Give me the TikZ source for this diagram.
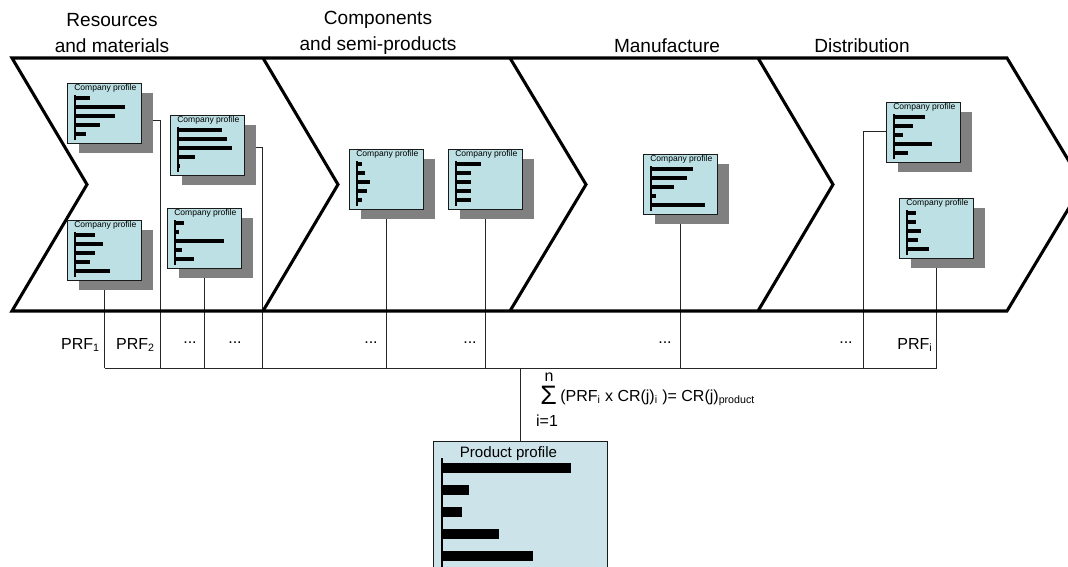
\documentclass[tikz,border=0pt]{standalone}
\usepackage{fontspec}
\setmainfont{Liberation Sans}
\usetikzlibrary{calc,shadows,backgrounds}

\definecolor{cpfill}{HTML}{BCE0E3}
\definecolor{ppfill}{HTML}{CDE3EA}
\definecolor{shade}{HTML}{808080}
\definecolor{edge}{HTML}{1A1A1A}

\tikzset{
  chevron/.style={line width=2.3pt, line join=miter},
  cpbox/.style={draw=edge, line width=1pt, fill=cpfill, minimum width=55.5pt,
    minimum height=45pt, inner sep=0pt, anchor=north west,
    drop shadow={shadow xshift=8.25pt, shadow yshift=-6.75pt, fill=shade, opacity=1}},
  cptitle/.style={font=\fontsize{6.4}{7}\selectfont, inner sep=0pt, anchor=north west},
  cpaxis/.style={line width=0.8pt},
  cpbar/.style={line width=2.3pt},
  conn/.style={line width=0.75pt, draw=black!85},
  stage/.style={font=\fontsize{14.3}{19.5}\selectfont, align=center, inner sep=0pt},
  prf/.style={font=\fontsize{12}{14}\selectfont, inner sep=0pt},
  ppbox/.style={draw=edge, line width=1.1pt, fill=ppfill, minimum width=130.5pt,
    minimum height=104pt, inner sep=0pt, anchor=north west},
  ppbar/.style={line width=7.5pt},
}

% company profile card: name, left, top, five bar lengths
\newcommand\cprofile[4]{%
  \node[cpbox] (#1) at (#2,#3) {};
  \node[cptitle] (#1t) at ($(#1.north west)+(7,1.5)$) {Company profile};
  \draw[cpaxis] ($(#1.north west)+(8,12)$) -- ($(#1.north west)+(8,57)$);
  \foreach \L [count=\k] in {#4}
    \draw[cpbar] ($(#1.north west)+(8,6+9*\k)$) -- ++(\L,0);
}

\begin{document}
\begin{tikzpicture}[x=0.75pt, y=-0.75pt]
\useasboundingbox (0,0) rectangle (1068,567);
\clip (0,0) rectangle (1068,567);

% stage headings
\node[stage] (s1) at (112,33) {Resources\\and materials};
\node[stage] (s2) at (378,33) {Components\\and semi-products};
\node[stage] (s3) at (667,46) {Manufacture};
\node[stage] (s4) at (862,46) {Distribution};

% value chain chevrons
\draw[chevron] (12,58) -- (1007,58) -- (1083,184.5) -- (1007,311) -- (12,311)
  -- (87,184.5) -- cycle;
\draw[chevron] (263,58) -- (338,184.5) -- (263,311);
\draw[chevron] (510,58) -- (586,184.5) -- (510,311);
\draw[chevron] (758,58) -- (833,184.5) -- (758,311);

% company profile cards
\cprofile{b1}{67}{83}{15,50,40,25,11}
\cprofile{b2}{170}{115}{44,49,54,17,2}
\cprofile{b3}{67}{220}{20,28,20,15,35}
\cprofile{b4}{167}{208}{9,4,49,7,19}
\cprofile{b5}{349}{149}{5,8,13,10,5}
\cprofile{b6}{448}{149}{25,15,15,15,15}
\cprofile{b7}{643}{154}{42,36,23,5,54}
\cprofile{b8}{886}{102}{31,19,9,38,14}
\cprofile{b9}{899}{198}{9,9,14,11,22}

% product profile card
\node[ppbox] (pp) at (433,441) {};
\node[font=\fontsize{11.3}{13}\selectfont, inner sep=0pt] (ppt) at (508.5,454) {Product profile};
\draw[line width=2pt] (442,458) -- (442,580);
\foreach \E/\Y in {571/468, 469/490, 462/512, 499/534, 533/556}
  \draw[ppbar] (442,\Y) -- (\E,\Y);

% collecting lines
\coordinate (bus) at (0,368);
\coordinate (t2) at (160,368);
\coordinate (t4) at (262,368);
\coordinate (t8) at (863,368);
\begin{scope}[on background layer]
  \draw[conn] (b3.south) -- (b3.south |- bus);
  \draw[conn] ($(b1.north east)+(0,38)$) -| (t2);
  \draw[conn] (b4.south) -- (b4.south |- bus);
  \draw[conn] ($(b2.north east)+(0,32)$) -| (t4);
  \draw[conn] (b5.south) -- (b5.south |- bus);
  \draw[conn] (b6.south) -- (b6.south |- bus);
  \draw[conn] (b7.south) -- (b7.south |- bus);
  \draw[conn] ($(b8.north west)+(0,30)$) -| (t8);
  \draw[conn] (b9.south) -- (b9.south |- bus);
  \draw[conn] (b3.south |- bus) -- (b9.south |- bus);
  \draw[conn] (pp.north |- bus) -- (pp.north);
\end{scope}

% partial results
\node[prf, anchor=east] (p1) at (100,345) {PRF\textsubscript{1}};
\node[prf, anchor=east] (p2) at (155,345) {PRF\textsubscript{2}};
\node[prf] (p3) at (190,343) {...};
\node[prf] (p4) at (235,343) {...};
\node[prf] (p5) at (371,343) {...};
\node[prf] (p6) at (470,343) {...};
\node[prf] (p7) at (665,343) {...};
\node[prf] (p8) at (846,343) {...};
\node[prf] (p9) at (915,345) {PRF\textsubscript{i}};

% aggregation formula
\node[prf] (sn) at (549,377) {n};
\node[font=\fontsize{20}{21}\selectfont, inner sep=0pt, text height=11pt, text depth=0pt]
  (ss) at (548.5,397) {Σ};
\node[prf] (si) at (547,421) {i=1};
\node[prf, anchor=west] (sf) at (560,398)
  {(PRF\textsubscript{i} x CR(j)\textsubscript{i} )= CR(j)\textsubscript{product}};
\end{tikzpicture}
\end{document}
